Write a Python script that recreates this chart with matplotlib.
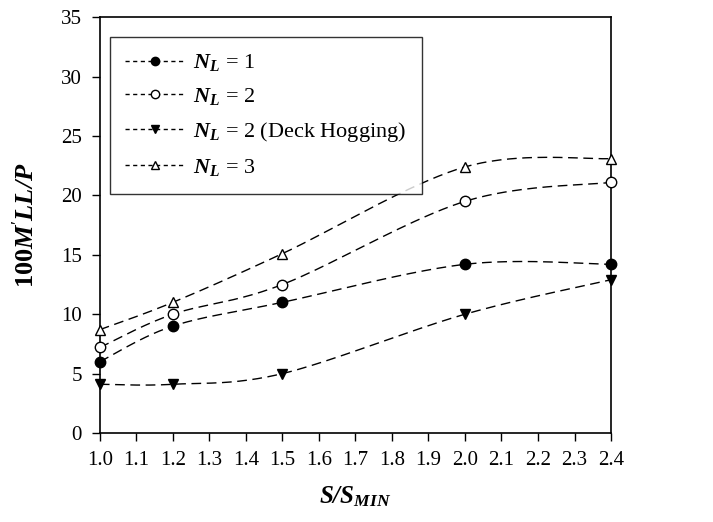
import numpy as np
import matplotlib
matplotlib.use("Agg")
import matplotlib.pyplot as plt
from matplotlib.lines import Line2D

plt.rcParams['font.family'] = ['Liberation Serif', 'DejaVu Serif']
plt.rcParams['mathtext.fontset'] = 'custom'
plt.rcParams['mathtext.rm'] = 'Liberation Serif'
plt.rcParams['mathtext.it'] = 'Liberation Serif:italic'
plt.rcParams['mathtext.bf'] = 'Liberation Serif:bold'
plt.rcParams['mathtext.bfit'] = 'Liberation Serif:bold:italic'

# spacing ratio S/S_min
s_ratio = [1.0, 1.2, 1.5, 2.0, 2.4]

nl1 = [6.0, 9.0, 11.0, 14.2, 14.2]
nl2 = [7.2, 10.0, 12.5, 19.5, 21.1]
nl2_hog = [4.1, 4.1, 5.0, 10.0, 12.9]
nl3 = [8.7, 11.0, 15.1, 22.4, 23.1]

labels = [r'$\mathbfit{N}_{\mathbfit{L}}$ = 1',
          r'$\mathbfit{N}_{\mathbfit{L}}$ = 2',
          r'$\mathbfit{N}_{\mathbfit{L}}$ = 2 (Deck Hogging)',
          r'$\mathbfit{N}_{\mathbfit{L}}$ = 3']

x_ticks = np.round(np.arange(1.0, 2.41, 0.1), 1)
y_ticks = [0, 5, 10, 15, 20, 25, 30, 35]


def smooth(xs, ys, n=40):
    # piecewise cubic bezier through the points (spreadsheet-style smoothing)
    p = np.column_stack([xs, ys]).astype(float)
    m = len(p)
    out = []
    for i in range(m - 1):
        p0 = p[i - 1] if i > 0 else p[i]
        p1, p2 = p[i], p[i + 1]
        p3 = p[i + 2] if i + 2 < m else p[i + 1]
        c1 = p1 + (p2 - p0) / 6.0
        c2 = p2 - (p3 - p1) / 6.0
        t = np.linspace(0, 1, n)[:, None]
        seg = ((1 - t) ** 3) * p1 + 3 * ((1 - t) ** 2) * t * c1 \
            + 3 * (1 - t) * t ** 2 * c2 + t ** 3 * p2
        out.append(seg if i == 0 else seg[1:])
    seg = np.vstack(out)
    return seg[:, 0], seg[:, 1]


fig = plt.figure(figsize=(7.13, 5.22), dpi=100)
ax = fig.add_axes([0.140, 0.1705, 0.717, 0.7965])

series = [
    (nl1, dict(marker='o', mfc='black')),
    (nl2, dict(marker='o', mfc='white')),
    (nl2_hog, dict(marker='v', mfc='black')),
    (nl3, dict(marker='^', mfc='white')),
]

handles = []
for (vals, style), lab in zip(series, labels):
    sx, sy = smooth(s_ratio, vals)
    ax.plot(sx, sy, color='black', lw=1.0, dashes=(7, 4), clip_on=False)
    ax.plot(s_ratio, vals, ls='none', color='black', mec='black', ms=7.5,
            mew=1.0, clip_on=False, zorder=5, **style)
    handles.append(Line2D([], [], color='black', lw=1.0, dashes=(3, 2.5),
                          mec='black', ms=6, mew=1.0, label=lab, **style))

ax.set_xlim(1.0, 2.4)
ax.set_ylim(0, 35)
ax.set_xticks(x_ticks)
ax.set_xticklabels([f'{v:.1f}' for v in x_ticks])
ax.set_yticks(y_ticks)
ax.tick_params(direction='out', length=6, width=1, labelsize=15, pad=7)
for sp in ax.spines.values():
    sp.set_linewidth(1.2)

ax.set_xlabel(r'$\mathbfit{S/S}_{\mathbfit{MIN}}$', fontsize=18, labelpad=10)
ax.set_ylabel(r'$\mathbf{100}\mathbfit{M}^{\prime}\mathbfit{LL/P}$',
              fontsize=19, labelpad=16)

leg = ax.legend(handles=handles, loc='upper left', fontsize=16,
                bbox_to_anchor=(0.006, 0.969), frameon=True, fancybox=False,
                edgecolor='black', handlelength=2.7, handletextpad=0.35,
                labelspacing=0.58, borderpad=0.7, borderaxespad=0.3)
leg.get_frame().set_linewidth(1.0)

fig.savefig('out.png', dpi=100)
